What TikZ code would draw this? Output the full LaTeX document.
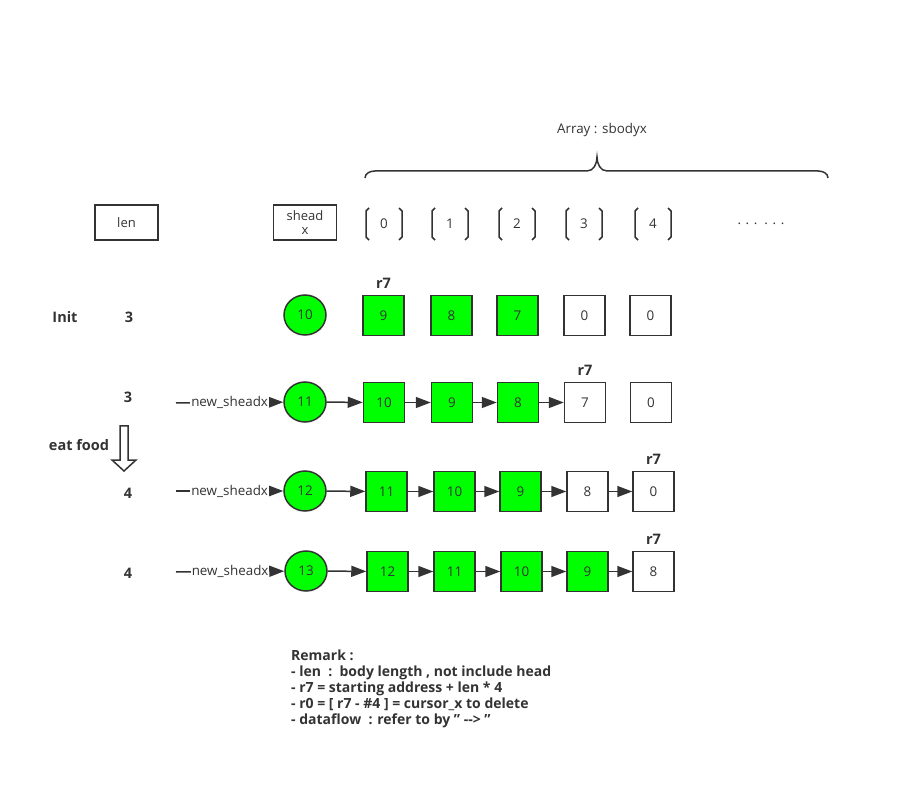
\documentclass[tikz,border=0pt]{standalone}
\usepackage{fontspec}
\setmainfont{Open Sans}
\usetikzlibrary{positioning, calc, arrows.meta, shapes.geometric}
\definecolor{ink}{HTML}{333333}
\definecolor{snake}{HTML}{00FF00}

\begin{document}
\begin{tikzpicture}[x=1pt, y=-1pt, font=\fontsize{13.4}{15}\selectfont, text=ink,
  field/.style={draw=ink, line width=1.5pt, minimum width=63pt, minimum height=35pt, inner sep=1pt, align=center, font=\fontsize{13}{14}\selectfont},
  cell/.style={draw=ink, line width=1.5pt, minimum width=41pt, minimum height=40pt, inner sep=0pt},
  seg/.style={cell, fill=snake},
  slot/.style={cell, fill=white},
  head/.style={ellipse, draw=ink, line width=1.5pt, fill=snake, minimum width=42pt, minimum height=40pt, inner sep=0pt},
  tag/.style={font=\bfseries\fontsize{14.5}{16}\selectfont},
  arrow/.style={-{Triangle[length=15pt, width=11pt]}, draw=ink, line width=1.5pt}]

\useasboundingbox (0,0) rectangle (903,786);

% header
\node[field] (len) at (126.5,222.5) {len};
\node[field] (shead) at (305,222.5) {shead\\x};
\node (array) at (602,130) {Array : sbodyx};
\draw[ink, line width=1.5pt] (365,178) to[out=90, in=180] (375,171) -- (587,171)
  to[out=0, in=-90] (597,157) to[out=-90, in=180] (607,171) -- (818,171)
  to[out=0, in=90] (828,178);
\foreach \i/\x in {0/384, 1/450, 2/517, 3/584, 4/653} {
  \node (idx\i) at (\x,224) {\i};
  \draw[ink, line width=1.5pt] (\x-15,208) -- (\x-18,211) -- (\x-18,237) -- (\x-15,240);
  \draw[ink, line width=1.5pt] (\x+15,208) -- (\x+18,211) -- (\x+18,237) -- (\x+15,240);
}
\node (dots) at (761,224) {. . .\ \ . . .};

% Init
\node[tag] (init) at (65,317) {Init};
\node[tag] (n1) at (129,317) {3};
\node[head] (h1) at (305,315) {10};
\node[seg] (c11) at (383.5,315.5) {9};
\node[seg] (c12) at (451.5,315.5) {8};
\node[seg] (c13) at (517.5,315.5) {7};
\node[slot] (c14) at (584.5,315.5) {0};
\node[slot] (c15) at (650.5,315.5) {0};
\node[tag, above=3pt of c11] (p1) {r7};

% move
\node[tag] (n2) at (128,397) {3};
\coordinate (s2) at (176,403);
\node[head] (h2) at (305,402) {11};
\node[seg] (c21) at (384,402.5) {10};
\node[seg] (c22) at (452,402.5) {9};
\node[seg] (c23) at (518,402.5) {8};
\node[slot] (c24) at (585,402.5) {7};
\node[slot] (c25) at (651,402.5) {0};
\node[tag, above=3pt of c24] (p2) {r7};
\draw[arrow] (s2) -- node[fill=white, inner sep=1pt] {new\_sheadx} (h2);
\foreach \a/\b in {h2/c21, c21/c22, c22/c23, c23/c24}
  \draw[arrow] (\a) -- (\b);

% eat food
\node[tag] (eat) at (79,445) {eat food};
\draw[ink, line width=1.5pt, fill=white] (120,426) -- (128,426) -- (128,460) -- (136,460)
  -- (124,471) -- (112,460) -- (120,460) -- cycle;

\node[tag] (n3) at (128,493) {4};
\coordinate (s3) at (176,491);
\node[head] (h3) at (305,491) {12};
\node[seg] (c31) at (386.5,491.5) {11};
\node[seg] (c32) at (454.5,491.5) {10};
\node[seg] (c33) at (520.5,491.5) {9};
\node[slot] (c34) at (587.5,491.5) {8};
\node[slot] (c35) at (653.5,491.5) {0};
\node[tag, above=3pt of c35] (p3) {r7};
\draw[arrow] (s3) -- node[fill=white, inner sep=1pt] {new\_sheadx} (h3);
\foreach \a/\b in {h3/c31, c31/c32, c32/c33, c33/c34, c34/c35}
  \draw[arrow] (\a) -- (\b);

\node[tag] (n4) at (128,573) {4};
\coordinate (s4) at (176,572);
\node[head] (h4) at (306,571) {13};
\node[seg] (c41) at (387.5,571.5) {12};
\node[seg] (c42) at (454.5,571.5) {11};
\node[seg] (c43) at (521.5,571.5) {10};
\node[seg] (c44) at (587.5,571.5) {9};
\node[slot] (c45) at (653.5,571.5) {8};
\node[tag, above=3pt of c45] (p4) {r7};
\draw[arrow] (s4) -- node[fill=white, inner sep=1pt] {new\_sheadx} (h4);
\foreach \a/\b in {h4/c41, c41/c42, c42/c43, c43/c44, c44/c45}
  \draw[arrow] (\a) -- (\b);

% remark
\node[tag, anchor=north west, align=left, inner sep=0pt, font=\bfseries\fontsize{14}{16}\selectfont] (remark) at (291,650)
  {Remark :\\
   - len\ \ :\ \ body length , not include head\\
   - r7 = starting address + len * 4\\
   - r0 = [ r7 - \#4 ] = cursor\_x to delete\\
   - dataflow\ \ : refer to by " -\kern0pt-> "};
\end{tikzpicture}
\end{document}
